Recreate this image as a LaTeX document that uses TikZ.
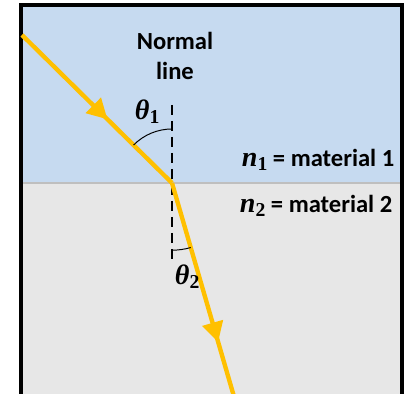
\documentclass[tikz,border=0pt]{standalone}
\usepackage{fontspec}
\setmainfont{Carlito}
\newfontfamily\symfont{Liberation Serif}
\usetikzlibrary{arrows.meta,angles,decorations.markings}

\definecolor{mediumone}{RGB}{198,218,240}
\definecolor{mediumtwo}{RGB}{231,231,231}
\definecolor{boundary}{RGB}{191,191,191}
\definecolor{rayyellow}{RGB}{255,192,0}

% bold italic symbol with a bold subscript
\newcommand{\symlbl}[2]{{\symfont\bfseries\itshape\fontsize{20}{20}\selectfont #1}\raisebox{-0.35ex}{\symfont\bfseries\fontsize{14}{14}\selectfont #2}}

\begin{document}
\begin{tikzpicture}[
    font=\fontsize{17.5}{21}\selectfont\bfseries,
    frame/.style={draw=black, line width=2.2pt},
    iface/.style={draw=boundary, line width=1.6pt},
    normal/.style={draw=black, line width=2.1pt, dash pattern=on 0.26cm off 0.14cm},
    ray/.style={draw=rayyellow, line width=3.1pt},
    midarrow/.style={postaction={decorate}, decoration={markings,
        mark=at position #1 with {\arrow[rayyellow]{Triangle[length=0.5cm, width=0.52cm]}}}},
    anglearc/.style={draw=black, line width=0.7pt},
    lbl/.style={inner sep=1pt},
]
\useasboundingbox (0,0) rectangle (10.15,9.85);

% -------------------------
% Two media
% -------------------------
\fill[mediumone] (0.525,5.275) rectangle (10.05,9.725);
\fill[mediumtwo] (0.525,-0.3) rectangle (10.05,5.275);
\draw[iface] (0.525,5.275) -- (10.05,5.275);
\draw[frame] (0.525,-0.3) -- (0.525,9.725) -- (10.05,9.725) -- (10.05,-0.3);

% -------------------------
% Points
% -------------------------
\coordinate (O)    at (4.3, 5.275);
\coordinate (src)  at (0.55, 8.975);
\coordinate (dst)  at (5.86, -0.1);
\coordinate (ntop) at (4.3, 7.225);
\coordinate (nbot) at (4.3, 3.275);

% normal line
\draw[normal] (ntop) -- (nbot);

% -------------------------
% Incident and refracted rays
% -------------------------
\draw[ray, midarrow=0.57] (src) -- (O);
\draw[ray, midarrow=0.74] (O) -- (dst);

% angles
\pic[anglearc, angle radius=1.35cm] {angle = ntop--O--src};
\pic[anglearc, angle radius=1.68cm] {angle = nbot--O--dst};

% -------------------------
% Labels
% -------------------------
\node[lbl, align=center] (nlabel) at (4.375, 8.45) {Normal\\line};
\node[lbl] (th1) at (3.68, 7.05) {\symlbl{θ}{1}};
\node[lbl] (th2) at (4.68, 2.93) {\symlbl{θ}{2}};
\node[lbl, anchor=east] (mat1) at (9.9, 5.85) {\symlbl{n}{1} = material 1};
\node[lbl, anchor=east] (mat2) at (9.85, 4.7) {\symlbl{n}{2} = material 2};

\end{tikzpicture}
\end{document}
